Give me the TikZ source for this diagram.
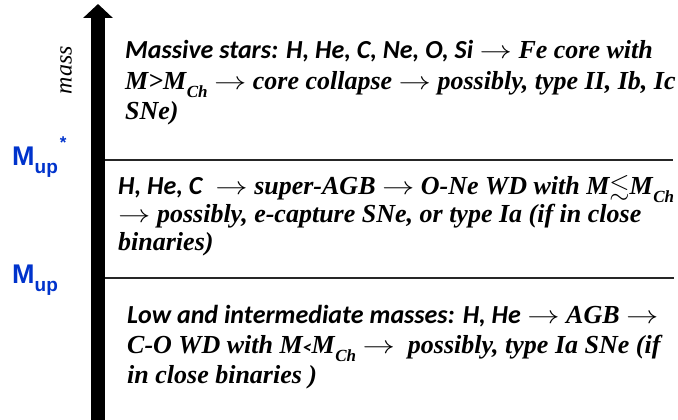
\documentclass[tikz,border=0pt]{standalone}
\usepackage{fontspec}
\usepackage{amssymb}
\setmainfont{Liberation Serif}
\newfontfamily\calibfont{Carlito}
\newfontfamily\arialfont{Liberation Sans}
\usetikzlibrary{
    positioning,
    arrows.meta
}
\definecolor{mupblue}{RGB}{0,51,204}
% sans part of a line
\newcommand{\sanspart}[1]{{\calibfont #1}}
% Chandrasekhar mass
\newcommand{\mch}{M\kern0.5pt\raisebox{-0.32em}{\fontsize{17}{17}\selectfont Ch}}
\newcommand{\ra}{\scalebox{1.3}[1]{$\rightarrow$}}

\begin{document}
\begin{tikzpicture}[
      x=1pt, y=-1pt,
      % Define styles for the elements
      stage/.style={
          anchor=base west,
          align=left,
          inner sep=0pt,
          font=\bfseries\itshape\fontsize{26}{#1}\selectfont
        },
      limit/.style={
          anchor=base west,
          inner sep=0pt,
          text=mupblue,
          font=\arialfont\bfseries\fontsize{27}{27}\selectfont
        },
      border/.style={
          line width=2pt,
          black!85
        },
      axis/.style={
          line width=14pt,
          -{Triangle[width=29pt,length=14pt]}
        }
    ]

    \useasboundingbox (0,0) rectangle (678,420);

    % Mass axis
    \coordinate (axisbot) at (98,420);
    \coordinate (axistop) at (98,4);
    \draw[axis] (axisbot) -- (axistop);

    \node[rotate=90, inner sep=0pt, font=\itshape\fontsize{24}{24}\selectfont] (masslbl) at (66,70) {mass};

    % Boundaries between the mass ranges
    \coordinate (upstarL) at (105,160);
    \coordinate (upstarR) at (673,160);
    \coordinate (upL) at (105,278);
    \coordinate (upR) at (674,278);
    \draw[border] (upstarL) -- (upstarR);
    \draw[border] (upL) -- (upR);

    % Limit labels
    \node[limit] (mupstar) at (12,165) {M\raisebox{-0.3em}{\fontsize{19}{19}\selectfont up}\kern2pt\raisebox{0.6em}{\fontsize{17}{17}\selectfont *}};
    \node[limit] (mup) at (12,283) {M\raisebox{-0.3em}{\fontsize{19}{19}\selectfont up}};

    % Mass ranges (positioned at the baseline of their last line)
    \node[stage=31] (massive) at (125,120) {%
      \sanspart{Massive stars: H, He, C, Ne, O, Si} \ra{} Fe core with\\
      M\textgreater\mch{} \ra{} core collapse \ra{} possibly, type II, Ib, Ic\\
      SNe)};

    \node[stage=28] (superagb) at (118,250) {%
      \sanspart{H, He, C} \ \ra{} super-AGB \ra{} O-Ne WD with M$\lesssim$\mch\\
      \ra{} possibly, e-capture SNe, or type Ia (if in close\\
      binaries)};

    \node[stage=30] (lowint) at (127,383) {%
      \sanspart{Low and intermediate masses: H, He} \ra{} AGB \ra\\
      C-O WD with M\sanspart{\fontsize{18}{18}\selectfont<}\mch{} \ra{} \ possibly, type Ia SNe (if\\
      in close binaries )};

  \end{tikzpicture}
\end{document}
